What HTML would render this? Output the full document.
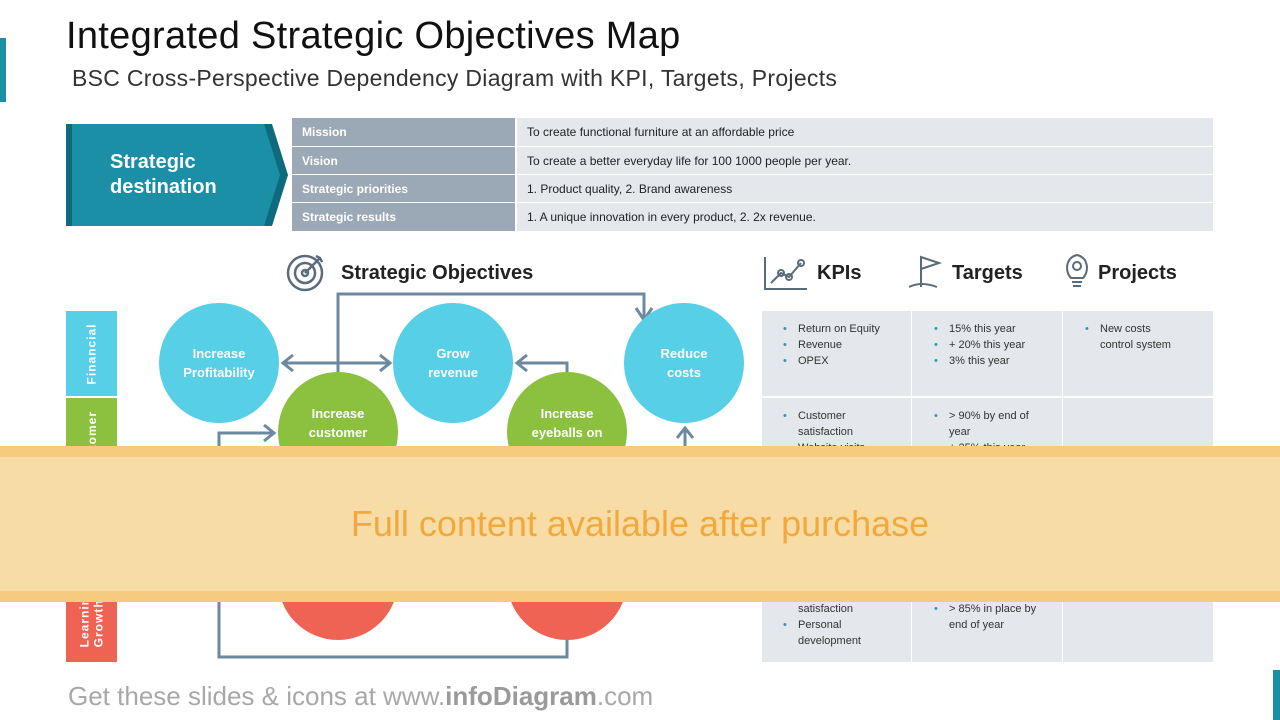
<!DOCTYPE html>
<html><head><meta charset="utf-8"><style>
body{margin:0;width:1280px;height:720px;position:relative;overflow:hidden;background:#fff;font-family:"Liberation Sans",sans-serif}
.a{position:absolute}
.c{position:absolute;border-radius:50%;color:#fff;font-weight:bold;font-size:13px;display:flex;align-items:center;justify-content:center;text-align:center;line-height:19px}
.tl{position:absolute;background:#9ba8b5;color:#fff;font-weight:bold;font-size:12px;padding-left:10px;box-sizing:border-box;display:flex;align-items:center}
.tv{position:absolute;background:#e4e7eb;color:#222;font-size:12px;padding-left:10px;box-sizing:border-box;display:flex;align-items:center}
.cell{position:absolute;background:#e4e7eb;font-size:11px;color:#333;line-height:16px;box-sizing:border-box;padding:10px 0 0 20px}
.cell div:before{content:"•";color:#2a9ab3;position:absolute;margin-left:-15px}
.lane{position:absolute;left:66px;width:51px;color:#fff;font-weight:bold;font-size:12px;display:flex;align-items:center;justify-content:center}
.lane span{transform:rotate(-90deg);white-space:nowrap;letter-spacing:1px}
h3{position:absolute;margin:0;font-size:20px;font-weight:bold;color:#222}
</style></head><body>
<div class="a" style="left:0;top:38px;width:6px;height:64px;background:#1a8fa5"></div>
<div class="a" style="left:66px;top:15px;font-size:38px;color:#111;letter-spacing:0.3px">Integrated Strategic Objectives Map</div>
<div class="a" style="left:72px;top:65px;font-size:23px;color:#333;letter-spacing:0.3px">BSC Cross-Perspective Dependency Diagram with KPI, Targets, Projects</div>
<svg class="a" style="left:66px;top:124px" width="222" height="102"><polygon points="0,0 198,0 222,51 198,102 0,102" fill="#1a8fa5"/><polygon points="0,0 6,0 6,102 0,102" fill="#0e6a7c"/><polygon points="198,0 206,0 222,51 206,102 198,102 214,51" fill="#0e6a7c"/></svg>
<div class="a" style="left:110px;top:150px;color:#fff;font-weight:bold;font-size:20px;line-height:25px">Strategic<br>destination</div>
<div class="tl" style="left:292px;top:118px;width:223px;height:28px">Mission</div>
<div class="tv" style="left:517px;top:118px;width:696px;height:28px">To create functional furniture at an affordable price</div>
<div class="tl" style="left:292px;top:147px;width:223px;height:27px">Vision</div>
<div class="tv" style="left:517px;top:147px;width:696px;height:27px">To create a better everyday life for 100 1000 people per year.</div>
<div class="tl" style="left:292px;top:175px;width:223px;height:27px">Strategic priorities</div>
<div class="tv" style="left:517px;top:175px;width:696px;height:27px">1. Product quality, 2. Brand awareness</div>
<div class="tl" style="left:292px;top:203px;width:223px;height:28px">Strategic results</div>
<div class="tv" style="left:517px;top:203px;width:696px;height:28px">1. A unique innovation in every product, 2. 2x revenue.</div>

<svg class="a" style="left:286px;top:252px" width="40" height="40" fill="none" stroke="#5a6b7b" stroke-width="2.5"><circle cx="19" cy="21" r="17"/><circle cx="19" cy="21" r="10"/><circle cx="19" cy="21" r="3"/><path d="M19 21 L34 6 M30 4 L34 6 L36 10"/></svg>
<h3 style="left:341px;top:262px">Strategic Objectives</h3>
<svg class="a" style="left:763px;top:255px" width="44" height="36" fill="none" stroke="#5a6b7b" stroke-width="2"><path d="M2 2 V34 H44"/><path d="M8 28 L18 18 L26 22 L38 8"/><circle cx="18" cy="18" r="3"/><circle cx="26" cy="22" r="3"/><circle cx="38" cy="8" r="3"/></svg>
<h3 style="left:817px;top:262px">KPIs</h3>
<svg class="a" style="left:907px;top:253px" width="40" height="38" fill="none" stroke="#5a6b7b" stroke-width="2"><path d="M14 34 V4 L32 10 L14 16"/><path d="M2 34 Q14 28 30 34"/></svg>
<h3 style="left:952px;top:262px">Targets</h3>
<svg class="a" style="left:1063px;top:252px" width="28" height="38" fill="none" stroke="#5a6b7b" stroke-width="2"><path d="M8 26 C2 20 2 6 14 3 C26 6 26 20 20 26 Z M9 30 H19 M10 34 H18"/><circle cx="14" cy="14" r="4"/></svg>
<h3 style="left:1098px;top:262px">Projects</h3>

<div class="lane" style="top:311px;height:85px;background:#56cfe7"><span>Financial</span></div>
<div class="lane" style="top:398px;height:90px;background:#8bc13f"><span>Customer</span></div>
<div class="lane" style="top:560px;height:102px;background:#ef6355"><span>Learning &amp;<br>Growth</span></div>

<svg class="a" style="left:0;top:0" width="1280" height="720" fill="none" stroke="#6b8aa0" stroke-width="3">
<path d="M338 372 V294 H644 V318"/><path d="M636 308 L644 320 L652 308"/>
<path d="M283 363 H390"/><path d="M293 355 L283 363 L293 371 M380 355 L390 363 L380 371"/>
<path d="M567 372 V363 H517"/><path d="M527 355 L517 363 L527 371"/>
<path d="M219 470 V433 H274"/><path d="M264 425 L274 433 L264 441"/>
<path d="M685 470 V428"/><path d="M677 438 L685 428 L693 438"/>
<path d="M219 600 V657 H567 V620"/>
</svg>
<div class="c" style="left:159px;top:303px;width:120px;height:120px;background:#56cfe7">Increase<br>Profitability</div>
<div class="c" style="left:393px;top:303px;width:120px;height:120px;background:#56cfe7">Grow<br>revenue</div>
<div class="c" style="left:624px;top:303px;width:120px;height:120px;background:#56cfe7">Reduce<br>costs</div>
<div class="c" style="left:278px;top:372px;width:120px;height:120px;background:#8bc13f;align-items:flex-start;padding-top:32px;box-sizing:border-box">Increase<br>customer<br>satisfaction</div>
<div class="c" style="left:507px;top:372px;width:120px;height:120px;background:#8bc13f;align-items:flex-start;padding-top:32px;box-sizing:border-box">Increase<br>eyeballs on<br>web</div>
<div class="c" style="left:278px;top:520px;width:120px;height:120px;background:#ef6355">retention</div>
<div class="c" style="left:507px;top:520px;width:120px;height:120px;background:#ef6355">leadership</div>

<div class="cell" style="left:762px;top:311px;width:149px;height:85px;padding-left:36px"><div>Return on Equity</div><div>Revenue</div><div>OPEX</div></div>
<div class="cell" style="left:912px;top:311px;width:150px;height:85px;padding-left:37px"><div>15% this year</div><div>+ 20% this year</div><div>3% this year</div></div>
<div class="cell" style="left:1063px;top:311px;width:150px;height:85px;padding-left:37px"><div>New costs<br>control system</div></div>
<div class="cell" style="left:762px;top:398px;width:149px;height:100px;padding-left:36px"><div>Customer<br>satisfaction</div><div>Website visits</div></div>
<div class="cell" style="left:912px;top:398px;width:150px;height:100px;padding-left:37px"><div>&gt; 90% by end of<br>year</div><div>+ 25% this year</div></div>
<div class="cell" style="left:1063px;top:398px;width:150px;height:100px"></div>
<div class="cell" style="left:762px;top:560px;width:149px;height:102px;padding:41px 0 0 36px">satisfaction<div>Personal<br>development</div></div>
<div class="cell" style="left:912px;top:560px;width:150px;height:102px;padding:41px 0 0 37px"><div>&gt; 85% in place by<br>end of year</div></div>
<div class="cell" style="left:1063px;top:560px;width:150px;height:102px"></div>

<div class="a" style="left:0;top:446px;width:1280px;height:156px;background:#f7cb7f"></div>
<div class="a" style="left:0;top:457px;width:1280px;height:134px;background:#f7dca6;display:flex;align-items:center;justify-content:center;font-size:36px;color:#f2a93b">Full content available after purchase</div>

<div class="a" style="left:68px;top:681px;font-size:26px;color:#a8a8a8">Get these slides &amp; icons at www.<b style="color:#9a9a9a">infoDiagram</b>.com</div>
<div class="a" style="left:1273px;top:670px;width:7px;height:50px;background:#1a8fa5"></div>
</body></html>
